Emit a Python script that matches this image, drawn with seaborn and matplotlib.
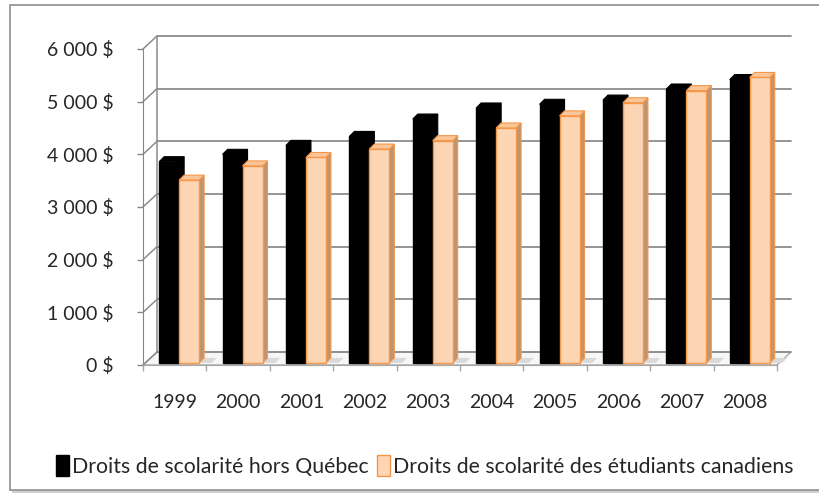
import numpy as np
import pandas as pd
import matplotlib
matplotlib.use("Agg")
import matplotlib.pyplot as plt
from matplotlib.patches import Polygon, Rectangle, Patch
from matplotlib.ticker import FixedLocator
import seaborn as sns

# data
years = ["1999", "2000", "2001", "2002", "2003", "2004", "2005", "2006", "2007", "2008"]
hors_quebec = [3820, 3960, 4130, 4300, 4630, 4840, 4910, 4990, 5200, 5380]
canadiens = [3470, 3740, 3900, 4060, 4220, 4460, 4690, 4940, 5170, 5420]
series_names = ["Droits de scolarité hors Québec",
                "Droits de scolarité des étudiants canadiens"]
y_ticks = [0, 1000, 2000, 3000, 4000, 5000, 6000]
y_labels = ["0\u00a0$", "1\u00a0000\u00a0$", "2\u00a0000\u00a0$", "3\u00a0000\u00a0$",
            "4\u00a0000\u00a0$", "5\u00a0000\u00a0$", "6\u00a0000\u00a0$"]

df = pd.DataFrame({
    "annee": years * 2,
    "droits": hors_quebec + canadiens,
    "serie": [series_names[0]] * len(years) + [series_names[1]] * len(years),
})

# colours (Excel-like)
face_cols = ["#000000", "#FCD5B5"]
edge_cols = ["#000000", "#F79646"]
side_cols = ["#000000", "#BC9574"]
top_cols = ["#000000", "#F9C69A"]
grid_col = "#8C8C8C"

sns.set_style("white")
plt.rcParams["font.family"] = ["Lato", "DejaVu Sans"]

W, H = 820, 495
fig = plt.figure(figsize=(W / 100, H / 100), dpi=100)

# chart frame with a little shadow
fig.patches.append(Rectangle((12 / W, 1 - 493 / H), 1.0, (488 / H), transform=fig.transFigure,
                             facecolor="#CFCFCF", edgecolor="none", zorder=-2))
fig.patches.append(Rectangle((10 / W, 1 - 490 / H), 1.0, (485 / H), transform=fig.transFigure,
                             facecolor="white", edgecolor="#8E8E8E", lw=1.2, zorder=-1))

ax = fig.add_axes([143 / W, 1 - 365 / H, (777 - 143) / W, (365 - 49) / H])
ax.set_zorder(2)
ax.patch.set_alpha(0)

sns.barplot(data=df, x="annee", y="droits", hue="serie", palette=face_cols,
            width=0.63, saturation=1, legend=False, ax=ax)
ax.set_xlim(-0.5, len(years) - 0.5)
ax.set_ylim(0, 6000)

# depth of the back wall and of the bars (in data units)
wall_dx, wall_dy = 0.221, 247
bar_dx, bar_dy = 0.079, 95
shift_x, shift_y = 0.07, 40

x0, x1 = -0.5, len(years) - 0.5

# floor
ax.add_patch(Polygon([(x0, 0), (x1, 0), (x1 + wall_dx, wall_dy), (x0 + wall_dx, wall_dy)],
                     closed=True, facecolor="#F7F7F7", edgecolor="#A6A6A6", lw=1.0,
                     zorder=0.5, clip_on=False))
# back wall gridlines and left wall
for v in y_ticks:
    ax.plot([x0 + wall_dx, x1 + wall_dx], [v + wall_dy, v + wall_dy], color=grid_col,
            lw=1.3, zorder=0.6, clip_on=False)
    ax.plot([x0, x0 + wall_dx], [v, v + wall_dy], color=grid_col, lw=1.1,
            zorder=0.6, clip_on=False)
ax.plot([x0 + wall_dx, x0 + wall_dx], [wall_dy, 6000 + wall_dy], color=grid_col,
        lw=1.1, zorder=0.6, clip_on=False)

# make the bars look 3D
n = len(years)
for i, p in enumerate(ax.patches[:2 * n]):
    s = i // n
    bx = p.get_x() + shift_x
    bw = p.get_width()
    bh = p.get_height()
    p.set_x(bx)
    p.set_y(shift_y)
    p.set_facecolor(face_cols[s])
    p.set_edgecolor(edge_cols[s])
    p.set_linewidth(1.0)
    p.set_zorder(3.2 + s)
    top = shift_y + bh
    side = Polygon([(bx + bw, shift_y), (bx + bw + bar_dx, shift_y + bar_dy),
                    (bx + bw + bar_dx, top + bar_dy), (bx + bw, top)], closed=True,
                   facecolor=side_cols[s], edgecolor=edge_cols[s], lw=0.8,
                   zorder=3 + s, clip_on=False)
    cap = Polygon([(bx, top), (bx + bw, top), (bx + bw + bar_dx, top + bar_dy),
                   (bx + bar_dx, top + bar_dy)], closed=True,
                  facecolor=top_cols[s], edgecolor=edge_cols[s], lw=0.8,
                  zorder=3.1 + s, clip_on=False)
    ax.add_patch(side)
    ax.add_patch(cap)
    if s == 1:
        # soft shadow of the bar pair on the floor
        ax.add_patch(Polygon([(bx + bw, shift_y), (bx + bw + 0.2, shift_y),
                              (bx + bw + 0.2 + bar_dx, shift_y + bar_dy),
                              (bx + bw + bar_dx, shift_y + bar_dy)], closed=True,
                             facecolor="#D9D9D9", edgecolor="none", zorder=0.8,
                             clip_on=False))

# axes styling
for sp in ["top", "right"]:
    ax.spines[sp].set_visible(False)
ax.spines["left"].set_color("#868686")
ax.spines["bottom"].set_color("#A6A6A6")
ax.spines["left"].set_zorder(0.7)
ax.spines["bottom"].set_zorder(0.7)

ax.set_yticks(y_ticks, y_labels)
ax.set_xticks(range(n), years)
ax.xaxis.set_minor_locator(FixedLocator(np.arange(-0.5, n, 1.0)))
ax.tick_params(axis="y", left=True, length=4.3, width=1, color="#868686",
               pad=17, labelsize=14)
ax.tick_params(axis="x", which="major", bottom=True, length=0, pad=21, labelsize=14)
ax.tick_params(axis="x", which="minor", bottom=True, length=4.3, width=1, color="#A6A6A6")
ax.set_xlabel("")
ax.set_ylabel("")
ax.grid(False)

# legend
handles = [Patch(facecolor=face_cols[k], edgecolor=edge_cols[k], lw=1.0, label=series_names[k])
           for k in range(2)]
fig.legend(handles=handles, loc="center", bbox_to_anchor=(425 / W, 1 - 466 / H), ncol=2,
           frameon=False, fontsize=15.3, handlelength=0.6, handleheight=1.1,
           handletextpad=0.15, columnspacing=0.4, borderaxespad=0)

fig.savefig("out.png", dpi=100)
